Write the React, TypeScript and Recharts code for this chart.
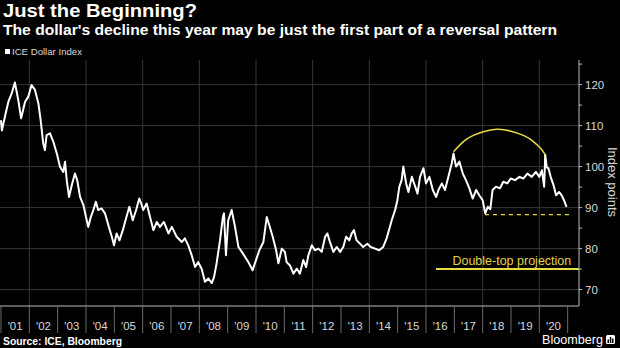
import React from 'react';
import { ComposedChart, Line, XAxis, YAxis, ReferenceLine, ReferenceDot } from 'recharts';

// ICE Dollar Index (decimal years)
const dates = [
  2001.0, 2001.03, 2001.14, 2001.26, 2001.38, 2001.49, 2001.61, 2001.71, 2001.85, 2001.96,
  2002.08, 2002.2, 2002.32, 2002.4, 2002.49, 2002.55, 2002.61, 2002.73, 2002.85, 2002.97,
  2003.08, 2003.2, 2003.26, 2003.32, 2003.4, 2003.5, 2003.61, 2003.69, 2003.79, 2003.91,
  2004.0, 2004.08, 2004.17, 2004.26, 2004.35, 2004.43, 2004.55, 2004.67, 2004.79, 2004.91,
  2004.99, 2005.08, 2005.18, 2005.3, 2005.41, 2005.53, 2005.65, 2005.77, 2005.88, 2005.95,
  2006.02, 2006.14, 2006.26, 2006.38, 2006.5, 2006.61, 2006.75, 2006.91, 2007.03, 2007.2,
  2007.38, 2007.49, 2007.61, 2007.73, 2007.85, 2007.96, 2008.08, 2008.2, 2008.32, 2008.44,
  2008.52, 2008.61, 2008.73, 2008.83, 2008.87, 2008.94, 2009.02, 2009.14, 2009.26, 2009.38,
  2009.5, 2009.61, 2009.73, 2009.88, 2010.0, 2010.12, 2010.26, 2010.38, 2010.47, 2010.59,
  2010.71, 2010.79, 2010.91, 2011.02, 2011.08, 2011.2, 2011.32, 2011.44, 2011.55, 2011.67,
  2011.77, 2011.85, 2011.97, 2012.08, 2012.2, 2012.32, 2012.44, 2012.52, 2012.61, 2012.73,
  2012.85, 2012.97, 2013.08, 2013.18, 2013.29, 2013.38, 2013.46, 2013.55, 2013.67, 2013.78,
  2013.93, 2014.05, 2014.2, 2014.35, 2014.49, 2014.61, 2014.71, 2014.79, 2014.91, 2014.99,
  2015.06, 2015.14, 2015.2, 2015.3, 2015.38, 2015.5, 2015.62, 2015.7, 2015.79, 2015.91,
  2016.0, 2016.12, 2016.24, 2016.36, 2016.44, 2016.56, 2016.67, 2016.79, 2016.91, 2016.97,
  2017.06, 2017.18, 2017.3, 2017.41, 2017.53, 2017.65, 2017.77, 2017.88, 2018.0, 2018.09,
  2018.18, 2018.27, 2018.35, 2018.47, 2018.61, 2018.73, 2018.87, 2018.99, 2019.14, 2019.3,
  2019.44, 2019.58, 2019.73, 2019.88, 2020.0, 2020.09, 2020.17, 2020.21, 2020.26, 2020.32,
  2020.4, 2020.5, 2020.59, 2020.7, 2020.79, 2020.87, 2020.96,
];
const values = [
  111.3, 108.8, 112.2, 115.8, 117.9, 120.5, 116.2, 111.8, 115.8, 117.0,
  119.9, 118.7, 115.4, 111.3, 105.7, 104.0, 107.7, 108.1, 106.0, 103.2,
  100.0, 98.7, 101.2, 96.7, 92.6, 95.5, 98.3, 96.7, 92.6, 90.6,
  87.7, 85.3, 87.7, 89.4, 91.4, 89.4, 89.8, 88.6, 85.7, 82.9,
  80.8, 83.7, 82.0, 84.5, 87.3, 90.2, 86.9, 89.4, 92.2, 91.0,
  89.4, 91.0, 87.7, 84.5, 86.5, 85.3, 86.5, 83.7, 85.3, 82.9,
  81.6, 82.5, 80.8, 78.4, 75.5, 76.7, 75.1, 71.9, 72.7, 71.6,
  73.1, 76.4, 82.0, 87.7, 88.6, 78.4, 86.9, 89.4, 85.3, 80.4,
  79.2, 78.0, 76.7, 74.7, 77.2, 79.6, 81.6, 87.7, 85.7, 82.9,
  79.6, 76.4, 80.0, 79.2, 76.7, 75.9, 73.9, 75.1, 73.9, 77.2,
  75.5, 78.4, 80.8, 79.6, 80.0, 79.2, 82.9, 83.7, 81.6, 79.2,
  80.4, 79.2, 80.4, 82.9, 82.0, 83.7, 84.5, 82.0, 81.2, 80.4,
  81.2, 80.4, 80.0, 79.6, 80.4, 82.5, 84.9, 86.9, 89.4, 91.8,
  95.1, 96.7, 100.0, 95.9, 93.8, 97.5, 95.1, 93.4, 97.5, 99.6,
  95.9, 97.5, 94.3, 92.6, 94.3, 95.9, 94.3, 97.5, 100.8, 103.2,
  100.0, 101.2, 98.3, 96.7, 94.7, 92.2, 94.3, 93.0, 91.8, 88.6,
  90.2, 89.6, 94.3, 95.1, 94.7, 96.3, 95.9, 97.1, 96.7, 97.5,
  97.1, 98.3, 97.5, 98.7, 97.5, 99.1, 95.1, 102.8, 99.8, 99.6,
  97.5, 95.5, 93.0, 93.8, 93.0, 91.8, 90.2,
];

// Double-top arc annotation
const arcDates = [2016.97, 2017.32, 2017.67, 2018.02, 2018.5, 2018.97, 2019.44, 2019.79, 2020.05, 2020.2];
const arcValues = [103.6, 106.1, 107.6, 108.5, 109.1, 108.7, 107.6, 106.1, 104.4, 103.0];
const arcDropValue = 101.0;

const necklineStart = 2018.08;
const necklineEnd = 2021.1;
const necklineValue = 88.3;
const projectionStart = 2016.35;
const projectionValue = 75;
const projectionLabel = 'Double-top projection';
const projectionLabelAt = { x: 2019.03, y: 77.2 };

const yearLabels = ["'01", "'02", "'03", "'04", "'05", "'06", "'07", "'08", "'09", "'10",
  "'11", "'12", "'13", "'14", "'15", "'16", "'17", "'18", "'19", "'20"];
const firstYear = 2001;
const gridYears = [2002, 2004, 2006, 2008, 2010, 2012, 2014, 2016, 2018, 2020];
const yTicks = [70, 75, 80, 85, 90, 95, 100, 105, 110, 115, 120, 125];
const yGrid = [70, 80, 90, 100, 110, 120];

const xDomain = [2000.965, 2021.4];
const yDomain = [66, 126];

const data = dates.map((d, i) => ({ t: d, v: values[i] }));
const arcData = arcDates.map((d, i) => ({ t: d, a: arcValues[i] }));

const xTicks: number[] = [];
yearLabels.forEach((_, i) => { xTicks.push(firstYear + i); xTicks.push(firstYear + i + 0.5); });
xTicks.push(firstYear + yearLabels.length);

const FONT = '"Liberation Sans", Arial, sans-serif';
const YELLOW = '#e8dc46';

const XTick = (props: any) => {
  const { x, y, payload } = props;
  const v = payload.value;
  if (Number.isInteger(v)) {
    return <line x1={x} x2={x} y1={y} y2={y + 27} stroke="#6a6a6a" strokeWidth={1} />;
  }
  const idx = Math.floor(v) - firstYear;
  return (
    <text x={x} y={y + 24} textAnchor="middle" fill="#d8d8d8" fontSize={11.5} fontFamily={FONT}>
      {yearLabels[idx]}
    </text>
  );
};

const YTick = (props: any) => {
  const { x, y, payload } = props;
  const major = payload.value % 10 === 0;
  return (
    <g>
      <line x1={x} x2={x + 3} y1={y} y2={y} stroke="#bbbbbb" strokeWidth={1} />
      {major && (
        <text x={x + 6} y={y + 4} fill="#d8d8d8" fontSize={11.5} fontFamily={FONT}>
          {payload.value}
        </text>
      )}
    </g>
  );
};

export default function App() {
  return (
    <div style={{ position: 'absolute', left: 0, top: 0, width: 620, height: 348, background: '#000', overflow: 'hidden' }}>
      <ComposedChart width={620} height={348} data={data} margin={{ top: 60, right: 0, bottom: 0, left: 0 }}>
        {yGrid.map((g) => (
          <ReferenceLine key={'h' + g} y={g} stroke="#363636" strokeWidth={1} />
        ))}
        {gridYears.map((g) => (
          <ReferenceLine key={'v' + g} x={g} stroke="#363636" strokeWidth={1} />
        ))}
        <XAxis
          dataKey="t"
          type="number"
          domain={xDomain}
          allowDataOverflow
          ticks={xTicks}
          interval={0}
          tick={<XTick />}
          tickLine={false}
          tickSize={0}
          tickMargin={0}
          height={42}
          axisLine={{ stroke: '#bbbbbb', strokeWidth: 1 }}
        />
        <YAxis
          orientation="right"
          type="number"
          domain={yDomain}
          allowDataOverflow
          ticks={yTicks}
          interval={0}
          tick={<YTick />}
          tickLine={false}
          tickSize={0}
          tickMargin={0}
          width={41}
          axisLine={{ stroke: '#bbbbbb', strokeWidth: 1 }}
        />
        <ReferenceLine
          segment={[{ x: projectionStart, y: projectionValue }, { x: xDomain[1], y: projectionValue }]}
          stroke={YELLOW}
          strokeWidth={2}
        />
        <ReferenceLine
          segment={[{ x: necklineStart, y: necklineValue }, { x: necklineEnd, y: necklineValue }]}
          stroke={YELLOW}
          strokeWidth={1.2}
          strokeDasharray="4 4"
        />
        <ReferenceLine
          segment={[{ x: arcDates[arcDates.length - 1], y: arcValues[arcValues.length - 1] }, { x: arcDates[arcDates.length - 1], y: arcDropValue }]}
          stroke={YELLOW}
          strokeWidth={1.5}
        />
        <Line
          data={arcData}
          dataKey="a"
          type="natural"
          stroke={YELLOW}
          strokeWidth={1.5}
          dot={false}
          isAnimationActive={false}
        />
        <Line
          dataKey="v"
          type="linear"
          stroke="#ffffff"
          strokeWidth={2}
          strokeLinejoin="round"
          dot={false}
          isAnimationActive={false}
        />
        <ReferenceDot
          x={projectionLabelAt.x}
          y={projectionLabelAt.y}
          r={0}
          fill="none"
          stroke="none"
          label={{ value: projectionLabel, position: 'center', fill: '#e0d24a', fontSize: 12.5, fontFamily: FONT }}
        />
      </ComposedChart>
      <svg width={620} height={348} style={{ position: 'absolute', left: 0, top: 0, pointerEvents: 'none' }}>
        <text x={3} y={17} fill="#ffffff" fontSize={18} fontWeight="bold" fontFamily={FONT} textLength={194} lengthAdjust="spacingAndGlyphs">
          Just the Beginning?
        </text>
        <text x={3} y={35} fill="#ffffff" fontSize={14} fontWeight="bold" fontFamily={FONT} textLength={554} lengthAdjust="spacingAndGlyphs">
          The dollar's decline this year may be just the first part of a reversal pattern
        </text>
        <rect x={5} y={49} width={5} height={5} fill="#ffffff" />
        <text x={12} y={55} fill="#d8d8d8" fontSize={9.5} fontFamily={FONT} textLength={70} lengthAdjust="spacingAndGlyphs">
          ICE Dollar Index
        </text>
        <text x={612} y={182} fill="#d8d8d8" fontSize={13} fontFamily={FONT} textAnchor="middle" transform="rotate(90 612 182)" dominantBaseline="central">
          Index points
        </text>
        <text x={3} y={345} fill="#ffffff" fontSize={10} fontWeight="bold" fontFamily={FONT} textLength={119} lengthAdjust="spacingAndGlyphs">
          Source: ICE, Bloomberg
        </text>
        <text x={542} y={344} fill="#ffffff" fontSize={13} fontFamily={FONT} textLength={61} lengthAdjust="spacingAndGlyphs">
          Bloomberg
        </text>
        <rect x={606} y={335} width={9} height={9} rx={1.5} fill="#ffffff" />
        <rect x={607.5} y={339.5} width={1.5} height={3.5} fill="#000" />
        <rect x={609.8} y={337} width={1.5} height={6} fill="#000" />
        <rect x={612} y={338.5} width={1.5} height={4.5} fill="#000" />
      </svg>
    </div>
  );
}
